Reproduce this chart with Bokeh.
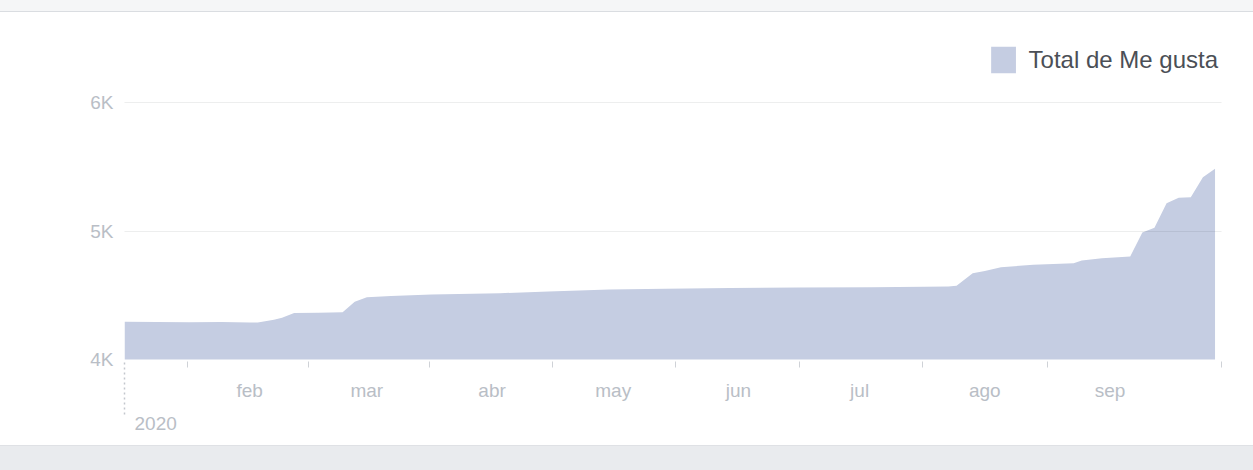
import pandas as pd
from bokeh.plotting import figure
from bokeh.models import (Range1d, FixedTicker, CustomJSTickFormatter, DatetimeAxis, Title,
                          Legend, LegendItem, Div, ColumnDataSource)
from bokeh.layouts import column
from bokeh.embed import file_html
from bokeh.resources import INLINE

# ---- data ----
dates = ["2020-01-01", "2020-01-09", "2020-01-17", "2020-01-25", "2020-02-01", "2020-02-03",
         "2020-02-07", "2020-02-09", "2020-02-12", "2020-02-18", "2020-02-24", "2020-02-27",
         "2020-03-01", "2020-03-07", "2020-03-17", "2020-04-03", "2020-04-15", "2020-04-30",
         "2020-05-14", "2020-05-30", "2020-06-16", "2020-07-04", "2020-07-17", "2020-07-23",
         "2020-07-25", "2020-07-29", "2020-08-01", "2020-08-05", "2020-08-13", "2020-08-23",
         "2020-08-25", "2020-08-30", "2020-09-06", "2020-09-09", "2020-09-12", "2020-09-15",
         "2020-09-18", "2020-09-21", "2020-09-24", "2020-09-27"]
likes = [4295, 4292, 4290, 4292, 4288, 4288,
         4310, 4325, 4362, 4365, 4368, 4450,
         4486, 4496, 4507, 4517, 4530, 4545,
         4552, 4558, 4562, 4564, 4568, 4570,
         4575, 4673, 4690, 4720, 4738, 4750,
         4772, 4790, 4803, 4990, 5027, 5219,
         5262, 5265, 5420, 5487]
month_labels = ["feb", "mar", "abr", "may", "jun", "jul", "ago", "sep"]
month_starts = ["2020-02-01", "2020-03-01", "2020-04-01", "2020-05-01",
                "2020-06-01", "2020-07-01", "2020-08-01", "2020-09-01"]
tick_months = ["2020-01-01", "2020-02-01", "2020-03-01", "2020-04-01",
               "2020-05-01", "2020-06-01", "2020-07-01", "2020-08-01"]
y_ticks = [4000, 5000, 6000]
y_labels = ["4K", "5K", "6K"]
year_start = "2020-01-01"
year_label = "2020"
series_name = "Total de Me gusta"

FONT = "Liberation Sans"
AREA = "#c5cde2"
TICK_TXT = "#b9bec6"
W = 1253
MONTH_STANDOFF = 20
MONTH_AXIS = MONTH_STANDOFF + 22   # height taken by the month-label axis


def ms(ts):
    return pd.Timestamp(ts).value / 1e6


x_start = pd.Timestamp(year_start)
x_end = x_start + pd.Timedelta(days=271.6)

mids = []
for m in tick_months:
    t = pd.Timestamp(m)
    mids.append(ms(t + pd.Timedelta(days=t.days_in_month / 2)))
mids.append(ms(x_end - pd.Timedelta(hours=2)))

src = ColumnDataSource(dict(date=pd.to_datetime(dates), likes=likes))

p = figure(width=W, height=433, x_axis_type="datetime",
           x_range=Range1d(ms(x_start), ms(x_end)), y_range=Range1d(4000, 6487),
           output_backend="svg", toolbar_location=None, title=None,
           min_border_left=124, min_border_right=32, min_border_top=28, min_border_bottom=86)
p.outline_line_color = None
p.background_fill_color = "white"
p.border_fill_color = "white"

r = p.varea(x="date", y1=0, y2="likes", source=src, fill_color=AREA)

# axis 1 (closest to the plot): month labels, no tick marks
xa = p.below[0]
xa.ticker = FixedTicker(ticks=[ms(d) for d in month_starts])
xa.formatter = CustomJSTickFormatter(args=dict(labels=month_labels),
                                     code="return labels[new Date(tick).getUTCMonth() - 1];")
xa.axis_line_color = None
xa.major_tick_in = 0
xa.major_tick_out = 0
xa.minor_tick_in = 0
xa.minor_tick_out = 0
xa.major_label_text_font = FONT
xa.major_label_text_font_size = "19px"
xa.major_label_text_color = TICK_TXT
xa.major_label_standoff = MONTH_STANDOFF

# axis 2: mid-month ticks + dotted year marker, drawn upward to the plot edge
ya_ticks = [ms(year_start)]
tick_axis = DatetimeAxis(ticker=FixedTicker(ticks=ya_ticks, minor_ticks=mids),
                         major_label_overrides={ya_ticks[0]: ""},
                         axis_line_color=None,
                         major_tick_in=MONTH_AXIS, major_tick_out=53 - MONTH_AXIS,
                         major_tick_line_color="#c3c7cd", major_tick_line_width=1.5,
                         major_tick_line_dash="2 3",
                         minor_tick_in=MONTH_AXIS, minor_tick_out=6 - MONTH_AXIS,
                         minor_tick_line_color="#cfd2d7",
                         major_label_standoff=0, major_label_text_font_size="1px")

year_title = Title(text=year_label, align="left", offset=10, standoff=0,
                   text_font=FONT, text_font_size="19px", text_font_style="normal",
                   text_color=TICK_TXT)
p.add_layout(tick_axis, "below")
p.add_layout(year_title, "below")
p.below = [xa, tick_axis, year_title]

# y axis
yax = p.left[0]
yax.ticker = FixedTicker(ticks=y_ticks)
yax.major_label_overrides = {t: l for t, l in zip(y_ticks, y_labels)}
yax.axis_line_color = None
yax.major_tick_in = 0
yax.major_tick_out = 0
yax.minor_tick_in = 0
yax.minor_tick_out = 0
yax.major_label_text_font = FONT
yax.major_label_text_font_size = "19px"
yax.major_label_text_color = TICK_TXT
yax.major_label_standoff = 11

p.xgrid.grid_line_color = None
p.ygrid.ticker = FixedTicker(ticks=y_ticks)
p.ygrid.grid_line_color = "#1d2129"
p.ygrid.grid_line_alpha = 0.08
p.ygrid.level = "overlay"

legend = Legend(items=[LegendItem(label=series_name, renderers=[r])], location="top_right",
                margin=3, padding=1, border_line_color=None, background_fill_alpha=0,
                glyph_width=31, glyph_height=33, label_standoff=10, label_height=33,
                label_text_font=FONT, label_text_font_size="24px", label_text_color="#4b4f56")
p.add_layout(legend)

top = Div(width=W, height=12, margin=0, styles={"background-color": "#f5f6f7",
                                                "border-bottom": "1px solid #dadde1"})
bottom = Div(width=W, height=25, margin=0, styles={"background-color": "#e9ebee",
                                                   "border-top": "1px solid #dfe1e5"})
layout = column(top, p, bottom)

open("out.html", "w").write(file_html(layout, INLINE))
